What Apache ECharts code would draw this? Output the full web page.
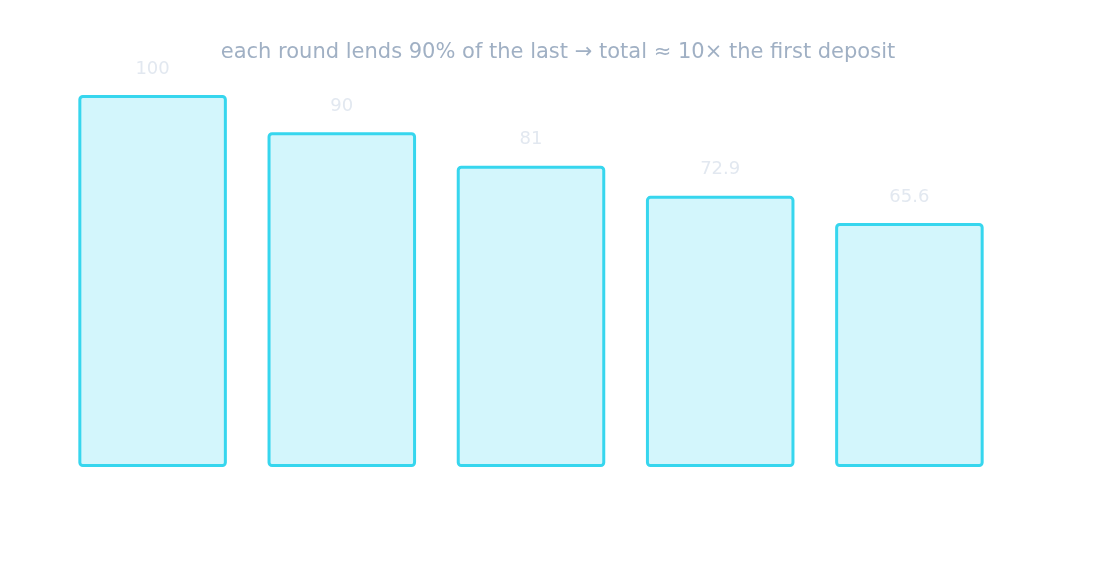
<!DOCTYPE html>
<html>
<head>
<meta charset="utf-8">
<script src="https://cdn.jsdelivr.net/npm/echarts@6/dist/echarts.min.js"></script>
<style>
  html, body { margin: 0; padding: 0; background: #fff; }
  #chart { width: 1116px; height: 576px; }
</style>
</head>
<body>
<div id="chart"></div>
<script>
// rounds of lending, each 90% of the previous
var rounds = ['Round 1', 'Round 2', 'Round 3', 'Round 4', 'Round 5'];
var deposits = [100, 90, 81, 72.9, 65.6];

var chart = echarts.init(document.getElementById('chart'));
var option = {
  backgroundColor: '#ffffff',
  title: {
    text: 'each round lends 90% of the last \u2192 total \u2248 10\u00d7 the first deposit',
    left: 'center',
    top: 37,
    textStyle: {
      color: '#a0b0c4',
      fontSize: 21,
      fontWeight: 'normal',
      fontFamily: 'DejaVu Sans'
    }
  },
  grid: { left: 58, right: 112, top: 95, bottom: 109 },
  xAxis: {
    type: 'category',
    data: rounds,
    axisLine: { show: false },
    axisTick: { show: false },
    axisLabel: { show: false }
  },
  yAxis: {
    type: 'value',
    min: 0,
    max: 100,
    show: false,
    splitLine: { show: false }
  },
  series: [{
    type: 'bar',
    data: deposits,
    barCategoryGap: '21.5%',
    itemStyle: {
      color: 'rgba(34, 211, 238, 0.2)',
      borderColor: '#36d6ee',
      borderWidth: 3,
      borderRadius: 3
    },
    label: {
      show: true,
      position: 'top',
      distance: 17,
      color: '#e2e8f0',
      fontSize: 18,
      fontFamily: 'DejaVu Sans'
    }
  }]
};
chart.setOption(option);
</script>
</body>
</html>
